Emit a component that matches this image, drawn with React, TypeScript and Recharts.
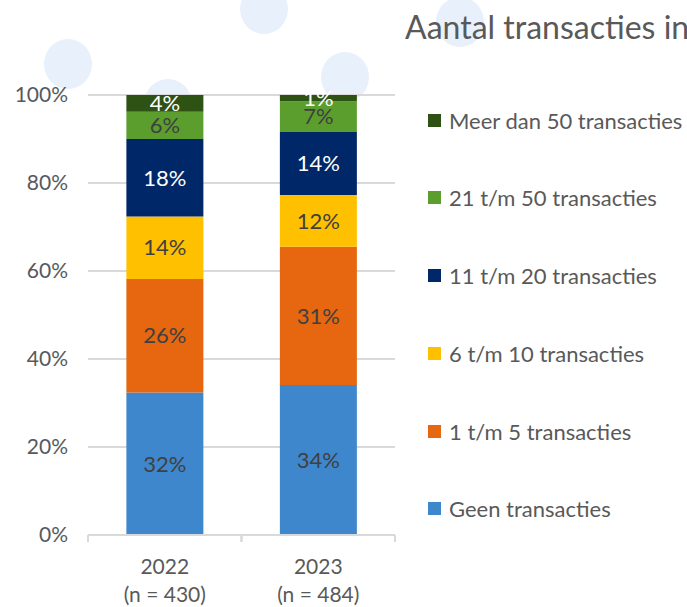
import React from 'react';
import { BarChart, Bar, XAxis, YAxis, CartesianGrid, LabelList } from 'recharts';

const categories = ['2022', '2023'];
const sampleSizes = [430, 484];

const geen = [32.4, 34.1];
const eenTotVijf = [25.8, 31.4];
const zesTotTien = [14.2, 11.8];
const elfTotTwintig = [17.6, 14.3];
const eenentwintigTotVijftig = [6.2, 7.0];
const meerDanVijftig = [3.8, 1.4];

const yTicks = [0, 20, 40, 60, 80, 100];

const series = [
  { key: 'geen', name: 'Geen transacties', values: geen, color: '#3F87CC', label: '#404040' },
  { key: 'k1', name: '1 t/m 5 transacties', values: eenTotVijf, color: '#E6670F', label: '#404040' },
  { key: 'k6', name: '6 t/m 10 transacties', values: zesTotTien, color: '#FFC000', label: '#404040' },
  { key: 'k11', name: '11 t/m 20 transacties', values: elfTotTwintig, color: '#002868', label: '#ffffff' },
  { key: 'k21', name: '21 t/m 50 transacties', values: eenentwintigTotVijftig, color: '#5B9E2D', label: '#404040' },
  { key: 'k50', name: 'Meer dan 50 transacties', values: meerDanVijftig, color: '#2E5214', label: '#ffffff' },
];

const data = categories.map((name, i) => {
  const row: Record<string, any> = { name, n: sampleSizes[i] };
  series.forEach((s) => {
    row[s.key] = s.values[i];
  });
  return row;
});

const W = 687;
const H = 607;
const MARGIN = { top: 95, right: 292, bottom: 0, left: 0 };
const Y_AXIS_W = 88;
const X_AXIS_H = 72;
const halfBand = (W - MARGIN.right - Y_AXIS_W) / categories.length / 2;

const TEXT = '#595959';
const GRID = '#d9d9d9';
const FS = 21;

const XTick = (props: any) => {
  const { x, y, payload } = props;
  const idx = categories.indexOf(payload.value);
  return (
    <g>
      <line x1={x - halfBand} x2={x - halfBand} y1={y - 8} y2={y - 1} stroke={GRID} strokeWidth={2} />
      <line x1={x + halfBand} x2={x + halfBand} y1={y - 8} y2={y - 1} stroke={GRID} strokeWidth={2} />
      <text x={x} y={y + 31} textAnchor="middle" fill={TEXT} fontSize={FS}>
        {payload.value}
      </text>
      <text x={x} y={y + 59} textAnchor="middle" fill={TEXT} fontSize={FS}>
        {`(n = ${sampleSizes[idx]})`}
      </text>
    </g>
  );
};

const bubbles = [
  { cx: 68, cy: 64, r: 25 },
  { cx: 264, cy: 9, r: 25 },
  { cx: 345, cy: 77, r: 25 },
  { cx: 168, cy: 104, r: 25 },
  { cx: 460, cy: 22, r: 25 },
];

const App: React.FC = () => {
  return (
    <div
      style={{
        position: 'absolute',
        left: 0,
        top: 0,
        width: W,
        height: H,
        overflow: 'hidden',
        background: '#fff',
        fontFamily: 'Lato, sans-serif',
      }}
    >
      <svg width={W} height={H} style={{ position: 'absolute', left: 0, top: 0 }}>
        {bubbles.map((b, i) => (
          <ellipse key={i} cx={b.cx} cy={b.cy} rx={b.r - 1} ry={b.r} fill="#E8F0FC" />
        ))}
      </svg>
      <div style={{ position: 'absolute', left: 0, top: 0 }}>
        <BarChart width={W} height={H} data={data} margin={MARGIN} barCategoryGap="25%">
          <CartesianGrid vertical={false} stroke={GRID} strokeWidth={2} />
          <XAxis
            dataKey="name"
            axisLine={{ stroke: GRID, strokeWidth: 2 }}
            tickLine={false}
            tickMargin={2}
            tick={<XTick />}
            height={X_AXIS_H}
            interval={0}
          />
          <YAxis
            domain={[0, 100]}
            ticks={yTicks}
            width={Y_AXIS_W}
            axisLine={false}
            tickLine={false}
            tickMargin={14}
            tick={{ fill: TEXT, fontSize: FS }}
            tickFormatter={(v) => `${v}%`}
          />
          {series.map((s) => (
            <Bar key={s.key} dataKey={s.key} name={s.name} stackId="a" fill={s.color} isAnimationActive={false}>
              <LabelList
                dataKey={s.key}
                position="center"
                fill={s.label}
                fontSize={22}
                formatter={(v: any) => `${Math.round(Number(v))}%`}
              />
            </Bar>
          ))}
        </BarChart>
      </div>
      <div
        style={{
          position: 'absolute',
          left: 405,
          top: 7,
          fontSize: 32,
          color: TEXT,
          whiteSpace: 'nowrap',
        }}
      >
        Aantal transacties in
      </div>
      <div style={{ position: 'absolute', left: 428, top: 106 }}>
        {[...series].reverse().map((s) => (
          <div
            key={s.key}
            style={{ display: 'flex', alignItems: 'center', height: 28, marginBottom: 49.8, whiteSpace: 'nowrap' }}
          >
            <span style={{ width: 13, height: 13, background: s.color, marginRight: 8, display: 'inline-block', flexShrink: 0 }} />
            <span style={{ fontSize: 22, color: TEXT }}>{s.name}</span>
          </div>
        ))}
      </div>
    </div>
  );
};

export default App;
